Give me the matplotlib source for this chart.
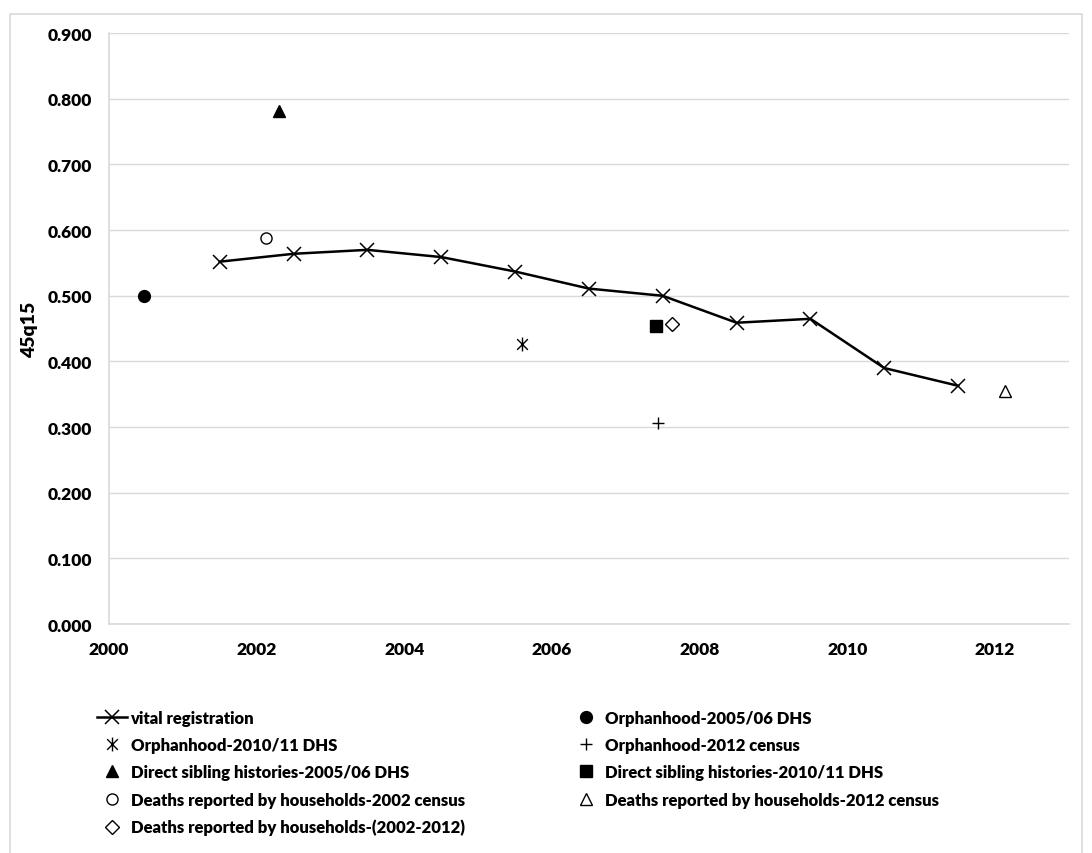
import matplotlib.pyplot as plt
from matplotlib.path import Path
from matplotlib.patches import Rectangle

plt.rcParams['font.family'] = ['Lato', 'DejaVu Sans']
plt.rcParams['font.weight'] = 'heavy'

# vital registration series
vr_years = [2001.5, 2002.5, 2003.5, 2004.5, 2005.5, 2006.5, 2007.5, 2008.5, 2009.5, 2010.5, 2011.5]
vr_q = [0.552, 0.564, 0.570, 0.559, 0.537, 0.511, 0.500, 0.459, 0.465, 0.390, 0.363]

# single-point estimates
orph_0506 = (2000.47, 0.499)
orph_1011 = (2005.6, 0.427)
orph_2012 = (2007.43, 0.307)
sib_0506 = (2002.3, 0.781)
sib_1011 = (2007.41, 0.454)
hh_2002 = (2002.13, 0.588)
hh_2012 = (2012.14, 0.355)
hh_0212 = (2007.63, 0.457)

yticks = [0.0, 0.1, 0.2, 0.3, 0.4, 0.5, 0.6, 0.7, 0.8, 0.9]
xticks = [2000, 2002, 2004, 2006, 2008, 2010, 2012]

# asterisk marker like the spreadsheet one: X with a vertical bar
ast = Path([(-1, -1), (1, 1), (-1, 1), (1, -1), (0, -1.3), (0, 1.3)],
           [Path.MOVETO, Path.LINETO, Path.MOVETO, Path.LINETO, Path.MOVETO, Path.LINETO])

fig = plt.figure(figsize=(10.92, 8.54), dpi=100)
ax = fig.add_axes([0.0998, 0.268, 0.879, 0.692])

# outer chart frame
fig.patches.append(Rectangle((10 / 1092, -0.01), 1072 / 1092, 1 - 15 / 854 + 0.01,
                             transform=fig.transFigure, fill=False,
                             edgecolor='#d9d9d9', linewidth=1.2))

h = {}
h['vr'], = ax.plot(vr_years, vr_q, color='black', lw=1.8, marker='x', ms=10, mew=1.1,
                   label='vital registration')
h['o0506'], = ax.plot(*orph_0506, ls='none', marker='o', ms=8.5, color='black',
                      label='Orphanhood-2005/06 DHS')
h['o1011'], = ax.plot(*orph_1011, ls='none', marker=ast, ms=10, mew=1, color='black',
                      mfc='none', label='Orphanhood-2010/11 DHS')
h['o2012'], = ax.plot(*orph_2012, ls='none', marker='+', ms=9, mew=1, color='black',
                      label='Orphanhood-2012 census')
h['s0506'], = ax.plot(*sib_0506, ls='none', marker='^', ms=8.5, color='black',
                      label='Direct sibling histories-2005/06 DHS')
h['s1011'], = ax.plot(*sib_1011, ls='none', marker='s', ms=8, color='black',
                      label='Direct sibling histories-2010/11 DHS')
h['h2002'], = ax.plot(*hh_2002, ls='none', marker='o', ms=8, mew=1, color='black',
                      mfc='white', label='Deaths reported by households-2002 census')
h['h2012'], = ax.plot(*hh_2012, ls='none', marker='^', ms=8, mew=1, color='black',
                      mfc='white', label='Deaths reported by households-2012 census')
h['h0212'], = ax.plot(*hh_0212, ls='none', marker='D', ms=7, mew=1, color='black',
                      mfc='white', label='Deaths reported by households-(2002-2012)')

ax.set_xlim(2000, 2013)
ax.set_ylim(0, 0.9)
ax.set_xticks(xticks)
ax.set_yticks(yticks)
ax.set_yticklabels(['%.3f' % v for v in yticks])
ax.tick_params(length=0, labelsize=12.5, pad=12)
for lab in ax.get_xticklabels() + ax.get_yticklabels():
    lab.set_fontweight('heavy')
ax.grid(axis='y', color='#d9d9d9', lw=1)
ax.set_axisbelow(True)
for s in ['top', 'right']:
    ax.spines[s].set_visible(False)
for s in ['left', 'bottom']:
    ax.spines[s].set_color('#d9d9d9')
    ax.spines[s].set_linewidth(1.2)
ax.set_ylabel('45q15', fontsize=14, fontweight='heavy', labelpad=7)

order = ['vr', 'o1011', 's0506', 'h2002', 'h0212', 'o0506', 'o2012', 's1011', 'h2012']
handles = [h[k] for k in order]
leg = fig.legend(handles, [x.get_label() for x in handles], ncol=2,
                 loc='upper left', bbox_to_anchor=(0.089, 0.168), frameon=False,
                 borderpad=0, borderaxespad=0,
                 prop={'size': 12, 'weight': 'heavy'}, handlelength=1.8,
                 handletextpad=0.2, columnspacing=6.4, labelspacing=0.68)

fig.savefig('out.png', dpi=100)
